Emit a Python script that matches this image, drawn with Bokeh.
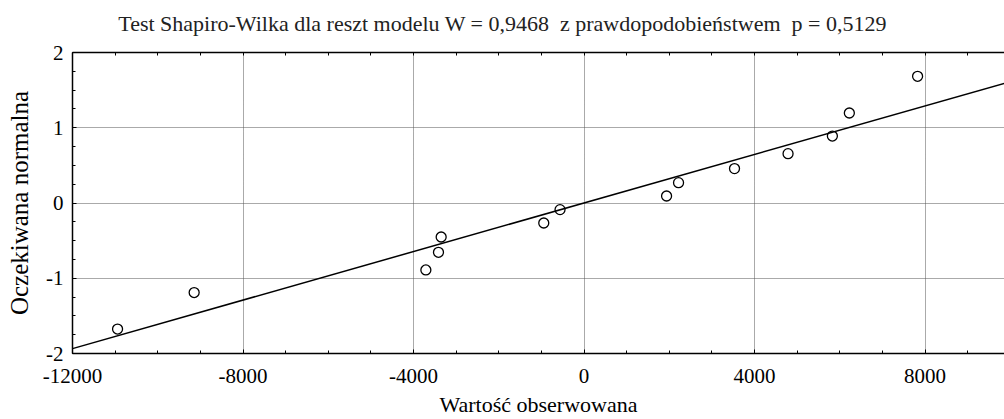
from bokeh.plotting import figure
from bokeh.models import FixedTicker, LinearAxis, Range1d, Grid
from bokeh.embed import file_html
from bokeh.resources import INLINE

# ---- data ----
observed = [-10943, -9146, -3710, -3414, -3351, -944, -562,
            1937, 2218, 3531, 4787, 5827, 6225, 7826]
expected = [-1.675, -1.19, -0.89, -0.655, -0.452, -0.266, -0.088,
            0.093, 0.27, 0.457, 0.656, 0.89, 1.196, 1.684]
line_mean = 0.0
line_sd = 6200.0
x_major = [-12000, -8000, -4000, 0, 4000, 8000]
x_minor = list(range(-12000, 10001, 1000))
y_major = [-2, -1, 0, 1, 2]
y_minor = [-2 + 0.25 * i for i in range(17)]
x_labels = {v: str(v) for v in x_major}
y_labels = {v: str(v) for v in y_major}
title_text = "Test Shapiro-Wilka dla reszt modelu W = 0,9468 \u00a0z prawdopodobieństwem \u00a0p = 0,5129"
x_title = "Wartość obserwowana"
y_title = "Oczekiwana normalna"

FONT = "Liberation Serif"

p = figure(width=1004, height=419, output_backend="svg", toolbar_location=None,
           x_range=Range1d(-12000, 9865), y_range=Range1d(-2, 2),
           min_border_left=72, min_border_right=0, min_border_top=52,
           min_border_bottom=66, x_axis_location=None, y_axis_location=None,
           title=None)
p.outline_line_color = None
p.background_fill_color = "white"
p.border_fill_color = "white"

def style_axis(ax, ticks, minor, labels):
    ax.ticker = FixedTicker(ticks=ticks, minor_ticks=minor)
    ax.major_label_overrides = labels
    ax.axis_line_color = "black"
    ax.axis_line_width = 1.5
    ax.major_tick_in = 4
    ax.major_tick_out = 0
    ax.minor_tick_in = 3
    ax.minor_tick_out = 0
    ax.major_tick_line_color = "black"
    ax.minor_tick_line_color = "black"
    ax.major_label_text_font = FONT
    ax.major_label_text_font_size = "21px"
    ax.major_label_text_color = "black"
    ax.axis_label_text_font = FONT
    ax.axis_label_text_font_style = "normal"
    ax.axis_label_text_color = "black"

bottom = LinearAxis()
style_axis(bottom, x_major, x_minor, x_labels)
bottom.axis_label = x_title
bottom.axis_label_text_font_size = "22px"
bottom.major_label_standoff = 15
bottom.axis_label_standoff = 6
p.add_layout(bottom, "below")

left = LinearAxis()
style_axis(left, y_major, y_minor, y_labels)
left.axis_label = y_title
left.axis_label_text_font_size = "25px"
left.major_label_standoff = 9
left.axis_label_standoff = 10
p.add_layout(left, "left")

# top frame edge with minor ticks; it also carries the chart title
top = LinearAxis()
style_axis(top, [], x_minor, {})
top.axis_label = title_text + "\u00a0" * 13
top.axis_label_text_font_size = "22px"
top.axis_label_text_color = "#222222"
top.axis_label_standoff = 17
p.add_layout(top, "above")

# grid lines
p.xgrid.visible = False
p.ygrid.visible = False
gx = Grid(dimension=0, ticker=FixedTicker(ticks=x_major[1:]), grid_line_color="#555555",
          grid_line_dash="1 1", grid_line_width=1)
gy = Grid(dimension=1, ticker=FixedTicker(ticks=y_major[1:-1]), grid_line_color="#555555",
          grid_line_dash="1 1", grid_line_width=1)
p.add_layout(gx)
p.add_layout(gy)

# fitted normal line
lx = [p.x_range.start, p.x_range.end]
ly = [(v - line_mean) / line_sd for v in lx]
p.line(lx, ly, line_color="black", line_width=1.5)

p.scatter(observed, expected, marker="circle", size=10, fill_color=None,
          line_color="black", line_width=1.3)

open("out.html", "w").write(file_html(p, INLINE))
